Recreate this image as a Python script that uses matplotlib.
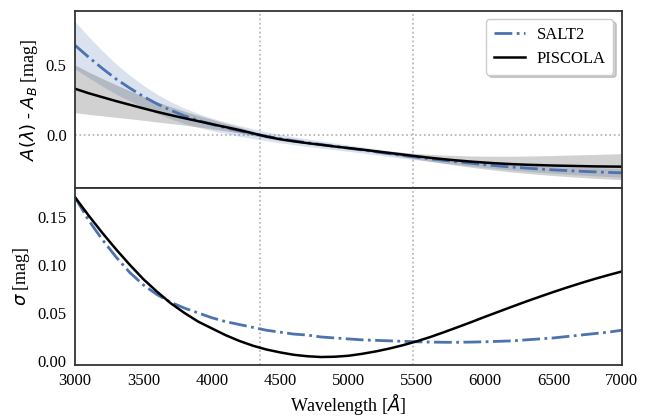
import numpy as np
import matplotlib
matplotlib.use("Agg")
import matplotlib.pyplot as plt

plt.rcParams['font.family'] = ['Liberation Serif', 'DejaVu Serif']
plt.rcParams['mathtext.fontset'] = 'dejavusans'

# wavelength grid [A], every 100 A
wave = list(range(3000, 7001, 100))

# A(lambda) - A_B [mag]
salt2_ext = [0.64, 0.555, 0.475, 0.40, 0.335, 0.275, 0.222, 0.176, 0.137, 0.104,
             0.076, 0.052, 0.03, 0.01, -0.009, -0.026, -0.041, -0.055, -0.068, -0.081,
             -0.094, -0.107, -0.12, -0.133, -0.146, -0.158, -0.17, -0.181, -0.192, -0.202,
             -0.212, -0.221, -0.229, -0.236, -0.243, -0.249, -0.254, -0.259, -0.263, -0.267,
             -0.27]
piscola_ext = [0.33, 0.298, 0.27, 0.242, 0.216, 0.19, 0.165, 0.142, 0.12, 0.099,
               0.078, 0.057, 0.036, 0.012, -0.011, -0.03, -0.045, -0.058, -0.07, -0.082,
               -0.093, -0.104, -0.116, -0.128, -0.14, -0.152, -0.163, -0.173, -0.182, -0.19,
               -0.197, -0.203, -0.208, -0.212, -0.215, -0.218, -0.22, -0.222, -0.224, -0.225,
               -0.226]

# sigma [mag]
salt2_sig = [0.170, 0.146, 0.126, 0.108, 0.092, 0.079, 0.069, 0.061, 0.055, 0.050,
             0.045, 0.041, 0.038, 0.035, 0.032, 0.030, 0.028, 0.027, 0.025, 0.024,
             0.023, 0.022, 0.0215, 0.021, 0.0205, 0.020, 0.0197, 0.0195, 0.0195, 0.0197,
             0.020, 0.0205, 0.021, 0.022, 0.023, 0.024, 0.0255, 0.027, 0.0285, 0.030,
             0.032]
piscola_sig = [0.170, 0.151, 0.133, 0.116, 0.100, 0.085, 0.072, 0.060, 0.050, 0.041,
               0.034, 0.027, 0.021, 0.016, 0.012, 0.009, 0.0065, 0.005, 0.0042, 0.0045,
               0.0055, 0.0075, 0.010, 0.013, 0.0165, 0.0205, 0.025, 0.030, 0.0352, 0.0405,
               0.046, 0.0513, 0.0566, 0.0618, 0.0668, 0.0717, 0.0764, 0.0809, 0.0852, 0.0892,
               0.093]

band_lines = [4350, 5470]

blue = '#4C72B0'
w = np.array(wave)
s2, s2e = np.array(salt2_ext), np.array(salt2_sig)
pc, pce = np.array(piscola_ext), np.array(piscola_sig)

fig = plt.figure(figsize=(6.47, 4.18), dpi=100)
ax1 = fig.add_axes([0.116, 0.551, 0.845, 0.423])
ax2 = fig.add_axes([0.116, 0.127, 0.845, 0.424], sharex=ax1)

# top panel
ax1.fill_between(w, s2 - s2e, s2 + s2e, color=blue, alpha=0.2, lw=0)
ax1.fill_between(w, pc - pce, pc + pce, color='k', alpha=0.18, lw=0)
ax1.plot(w, s2, color=blue, ls='-.', lw=2, label='SALT2')
ax1.plot(w, pc, color='k', lw=1.8, label='PISCOLA')
ax1.axhline(0, color='#b0b0b0', ls=':', lw=1.2, zorder=0)
ax1.set_ylim(-0.376, 0.886)
ax1.set_yticks([0.0, 0.5])
ax1.set_ylabel(r'$A(\lambda)$ - $A_B$ [mag]', fontsize=13)
ax1.legend(loc='upper right', fontsize=12, fancybox=True,
           shadow={'alpha': 0.25}, framealpha=1, edgecolor='#cccccc',
           handlelength=1.9, handletextpad=0.7, borderpad=0.45, labelspacing=0.5)
plt.setp(ax1.get_xticklabels(), visible=False)

# bottom panel
ax2.plot(w, s2e, color=blue, ls='-.', lw=2)
ax2.plot(w, pce, color='k', lw=1.8)
ax2.set_ylim(-0.004, 0.18)
ax2.set_yticks([0.0, 0.05, 0.10, 0.15])
ax2.set_yticklabels(['0.00', '0.05', '0.10', '0.15'])
ax2.set_ylabel(r'$\sigma$ [mag]', fontsize=13)
ax2.set_xlabel(r'Wavelength [$Å$]', fontsize=13, labelpad=1)
ax2.set_xlim(3000, 7000)
ax2.set_xticks(range(3000, 7001, 500))

for ax in (ax1, ax2):
    for x in band_lines:
        ax.axvline(x, color='#b0b0b0', ls=':', lw=1.2, zorder=0)
    ax.tick_params(length=0, labelsize=12, pad=6)
    for sp in ax.spines.values():
        sp.set_color('#333333')
        sp.set_linewidth(1.3)

fig.align_ylabels([ax1, ax2])
fig.savefig('out.png', dpi=100)
